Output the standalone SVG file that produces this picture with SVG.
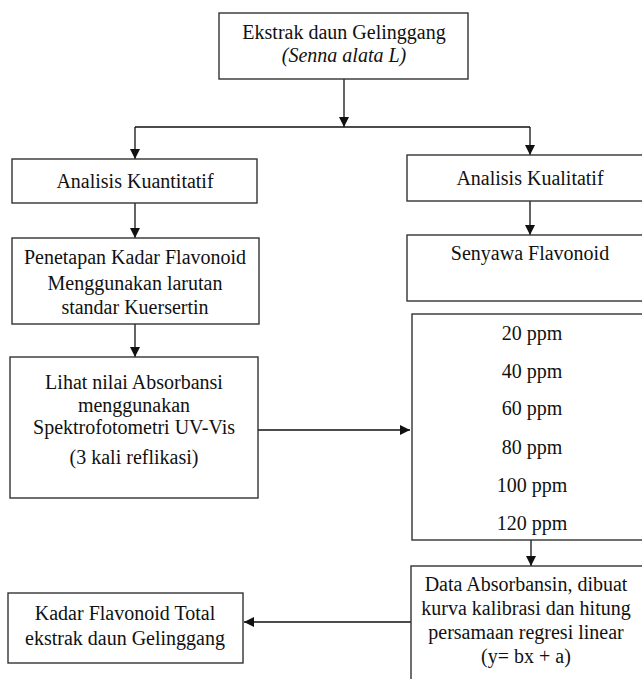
<svg xmlns="http://www.w3.org/2000/svg" width="642" height="679" viewBox="0 0 642 679">
<style>
.box{fill:#fff;stroke:#333;stroke-width:1.4}
.t{font-family:"Liberation Serif","Times New Roman",serif;font-size:20px;fill:#111;text-anchor:middle}
.it{font-style:italic}
.c{fill:none;stroke:#111;stroke-width:1.3}
</style>
<defs>
<marker id="ah" viewBox="0 0 10 10" refX="10" refY="5" markerWidth="10" markerHeight="10" markerUnits="userSpaceOnUse" orient="auto">
<path d="M0,0 L10,5 L0,10 z" fill="#111"/>
</marker>
</defs>
<rect width="642" height="679" fill="#fff"/>
<g id="connectors">
<path class="c" d="M344,79 V127" marker-end="url(#ah)"/>
<path class="c" d="M135,127 H530"/>
<path class="c" d="M135,127 V159" marker-end="url(#ah)"/>
<path class="c" d="M530,127 V155" marker-end="url(#ah)"/>
<path class="c" d="M135,203 V238" marker-end="url(#ah)"/>
<path class="c" d="M530,201 V235" marker-end="url(#ah)"/>
<path class="c" d="M135,324 V357" marker-end="url(#ah)"/>
<path class="c" d="M258,430 H410" marker-end="url(#ah)"/>
<path class="c" d="M531,540 V566" marker-end="url(#ah)"/>
<path class="c" d="M411,622 H244" marker-end="url(#ah)"/>
</g>
<g id="n-ekstrak">
<rect class="box" x="219" y="13" width="249" height="66"/>
<text class="t" x="344" y="39">Ekstrak daun Gelinggang</text>
<text class="t it" x="344" y="62">(Senna alata L)</text>
</g>
<g id="n-kuantitatif">
<rect class="box" x="12" y="159" width="245" height="44"/>
<text class="t" x="135" y="188">Analisis Kuantitatif</text>
</g>
<g id="n-kualitatif">
<rect class="box" x="407" y="155" width="240" height="46"/>
<text class="t" x="530" y="185">Analisis Kualitatif</text>
</g>
<g id="n-penetapan">
<rect class="box" x="12" y="238" width="247" height="86"/>
<text class="t" x="135" y="264">Penetapan Kadar Flavonoid</text>
<text class="t" x="135" y="290">Menggunakan larutan</text>
<text class="t" x="135" y="314">standar Kuersertin</text>
</g>
<g id="n-senyawa">
<rect class="box" x="407" y="235" width="240" height="66"/>
<text class="t" x="530" y="260">Senyawa Flavonoid</text>
</g>
<g id="n-lihat">
<rect class="box" x="10" y="357" width="248" height="141"/>
<text class="t" x="134" y="389">Lihat nilai Absorbansi</text>
<text class="t" x="134" y="412">menggunakan</text>
<text class="t" x="134" y="434">Spektrofotometri UV-Vis</text>
<text class="t" x="134" y="464">(3 kali reflikasi)</text>
</g>
<g id="n-ppm">
<rect class="box" x="412" y="314" width="235" height="226"/>
<text class="t" x="532" y="340">20 ppm</text>
<text class="t" x="532" y="378">40 ppm</text>
<text class="t" x="532" y="415">60 ppm</text>
<text class="t" x="532" y="454">80 ppm</text>
<text class="t" x="532" y="492">100 ppm</text>
<text class="t" x="532" y="530">120 ppm</text>
</g>
<g id="n-data">
<rect class="box" x="411" y="566" width="236" height="120"/>
<text class="t" x="526" y="591">Data Absorbansin, dibuat</text>
<text class="t" x="526" y="615">kurva kalibrasi dan hitung</text>
<text class="t" x="526" y="639">persamaan regresi linear</text>
<text class="t" x="526" y="663">(y= bx + a)</text>
</g>
<g id="n-kadar">
<rect class="box" x="8" y="593" width="235" height="70"/>
<text class="t" x="125" y="620">Kadar Flavonoid Total</text>
<text class="t" x="125" y="645">ekstrak daun Gelinggang</text>
</g>
</svg>
